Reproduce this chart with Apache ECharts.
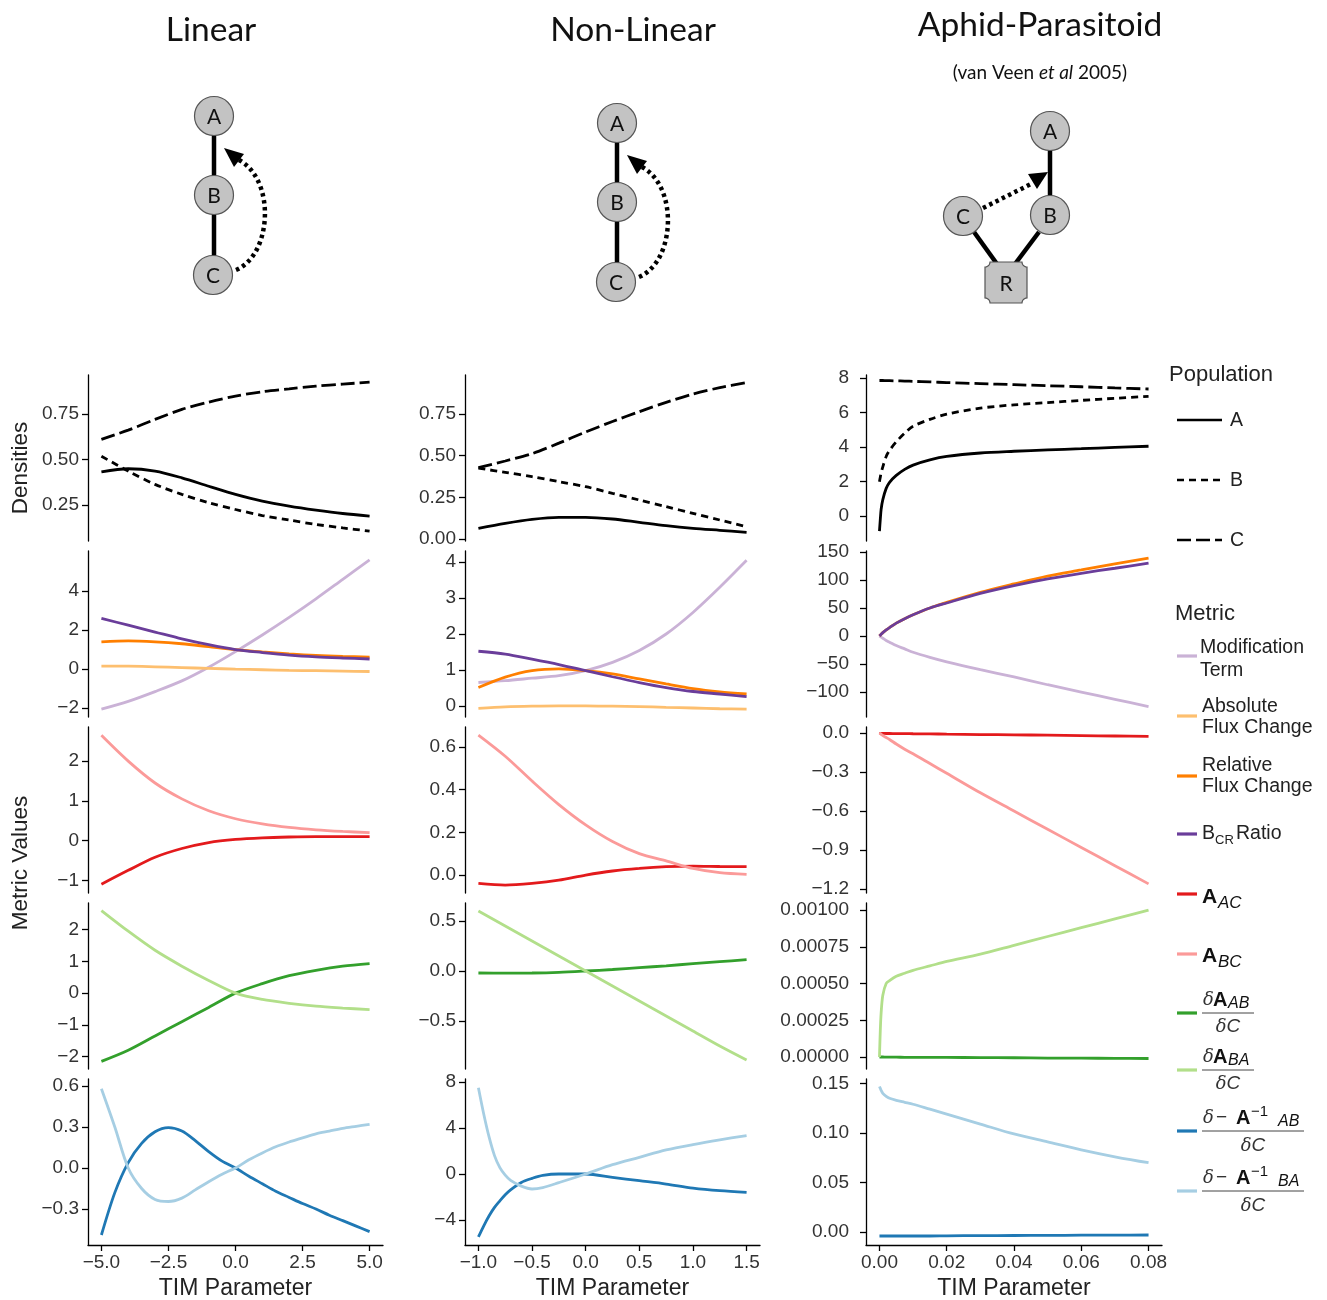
<!DOCTYPE html>
<html><head><meta charset="utf-8">
<script src="https://cdn.jsdelivr.net/npm/echarts@6/dist/echarts.min.js"></script>
<style>html,body{margin:0;padding:0;background:#fff}#c{width:1327px;height:1300px}</style>
</head><body><div id="c"></div>
<script>
// ---------------- DATA ----------------
// Linear model
const linX = [-5,-4,-3,-2,-1,0,1,2,3,4,5];
const linXFine = [-5,-4.5,-4,-3.5,-3,-2.5,-2,-1.5,-1,-0.5,0,0.5,1,1.5,2,2.5,3,3.5,4,4.5,5];
const lin_A = [0.432,0.449,0.436,0.399,0.353,0.308,0.271,0.244,0.222,0.203,0.189];
const lin_B = [0.518,0.436,0.363,0.308,0.262,0.225,0.192,0.167,0.143,0.124,0.106];
const lin_C = [0.610,0.661,0.720,0.775,0.815,0.848,0.872,0.888,0.903,0.914,0.925];
const lin_mod = [-2.05,-1.65,-1.15,-0.6,0.1,0.9,1.75,2.65,3.6,4.6,5.6];
const lin_abs = [0.15,0.15,0.12,0.08,0.04,0.0,-0.03,-0.06,-0.08,-0.10,-0.12];
const lin_rel = [1.40,1.45,1.40,1.30,1.15,1.00,0.88,0.78,0.70,0.65,0.62];
const lin_bcr = [2.60,2.25,1.90,1.55,1.25,1.00,0.85,0.72,0.63,0.57,0.52];
const lin_AAC = [-1.10,-0.75,-0.42,-0.20,-0.05,0.03,0.07,0.09,0.10,0.10,0.10];
const lin_ABC = [2.65,2.00,1.45,1.05,0.75,0.55,0.42,0.33,0.27,0.23,0.20];
const lin_dAAB = [-2.15,-1.80,-1.35,-0.90,-0.45,0.0,0.30,0.55,0.72,0.85,0.93];
const lin_dABA = [2.60,1.95,1.35,0.85,0.40,0.0,-0.20,-0.32,-0.41,-0.47,-0.52];
const lin_dInvAB = [-0.49,-0.18,0.04,0.18,0.265,0.295,0.27,0.20,0.12,0.05,0.0,-0.06,-0.115,-0.17,-0.215,-0.26,-0.30,-0.345,-0.385,-0.425,-0.465];
const lin_dInvBA = [0.58,0.30,0.0,-0.15,-0.23,-0.245,-0.22,-0.16,-0.10,-0.045,0.0,0.06,0.11,0.155,0.19,0.22,0.25,0.27,0.29,0.305,0.32];

// Non-linear model
const nlX = [-1,-0.75,-0.5,-0.25,0,0.25,0.5,0.75,1,1.25,1.5];
const nlXFine = [-1,-0.95,-0.9,-0.85,-0.8,-0.75,-0.7,-0.6,-0.5,-0.4,-0.25,0,0.25,0.5,0.75,1,1.25,1.5];
const nl_A = [0.064,0.094,0.118,0.130,0.130,0.120,0.100,0.080,0.064,0.052,0.040];
const nl_B = [0.425,0.400,0.374,0.344,0.314,0.274,0.234,0.194,0.154,0.114,0.074];
const nl_C = [0.428,0.468,0.512,0.575,0.642,0.705,0.764,0.820,0.870,0.908,0.938];
const nl_mod = [0.65,0.70,0.77,0.84,0.98,1.21,1.54,2.00,2.60,3.30,4.05];
const nl_abs = [-0.07,-0.03,-0.01,0.0,0.0,-0.01,-0.02,-0.04,-0.06,-0.08,-0.09];
const nl_rel = [0.51,0.80,0.98,1.03,0.98,0.89,0.75,0.61,0.48,0.39,0.33];
const nl_bcr = [1.52,1.44,1.30,1.15,0.98,0.81,0.65,0.51,0.40,0.33,0.26];
const nl_AAC = [-0.039,-0.047,-0.039,-0.024,0.0,0.019,0.031,0.039,0.042,0.040,0.039];
const nl_ABC = [0.655,0.556,0.440,0.330,0.235,0.157,0.100,0.066,0.031,0.011,0.003];
const nl_dAAB = [-0.020,-0.022,-0.020,-0.013,0.0,0.015,0.033,0.052,0.073,0.093,0.113];
const nl_dABA = [0.60,0.45,0.30,0.15,0.0,-0.15,-0.30,-0.45,-0.60,-0.75,-0.89];
const nl_dInvAB = [-5.47,-4.5,-3.63,-2.9,-2.33,-1.8,-1.37,-0.73,-0.38,-0.12,0.0,0.0,-0.29,-0.58,-0.87,-1.22,-1.45,-1.6];
const nl_dInvBA = [7.5,5.2,3.2,1.6,0.55,-0.1,-0.55,-1.05,-1.3,-1.18,-0.75,0.0,0.81,1.45,2.09,2.56,2.97,3.34];

// Aphid-Parasitoid model
const apX = [0,0.00025,0.0005,0.001,0.002,0.003,0.005,0.0075,0.01,0.015,0.02,0.03,0.04,0.05,0.06,0.07,0.08];
const ap_A = [-0.88,-0.2,0.39,0.95,1.6,1.95,2.35,2.7,2.95,3.25,3.45,3.65,3.75,3.83,3.9,3.97,4.04];
const ap_B = [1.99,2.25,2.5,2.85,3.45,3.8,4.3,4.8,5.2,5.6,5.9,6.25,6.44,6.57,6.7,6.82,6.93];
const ap_C = [7.85,7.85,7.85,7.85,7.84,7.84,7.83,7.82,7.80,7.77,7.73,7.67,7.61,7.55,7.49,7.42,7.36];
const ap_mod = [0,-1,-2,-4,-8,-11,-17,-23,-29,-38,-46,-60,-73,-87,-100,-113,-126];
const ap_rel = [0,1.5,3,6,11,15,23,31,38,50,60,78,93,107,118,129,139];
const ap_bcr = [0,1.5,3,6,11,15,23,31,38,50,59,76,90,102,112,121,130];
const ap_AAC = [-0.003,-0.003,-0.003,-0.003,-0.004,-0.004,-0.005,-0.005,-0.006,-0.007,-0.009,-0.012,-0.014,-0.017,-0.020,-0.023,-0.026];
const ap_ABC = [0,-0.005,-0.01,-0.02,-0.035,-0.05,-0.085,-0.125,-0.16,-0.235,-0.31,-0.46,-0.60,-0.74,-0.88,-1.02,-1.16];
const ap_dAAB = [0,0,0,0,-0.000001,-0.000001,-0.000001,-0.000002,-0.000002,-0.000003,-0.000003,-0.000004,-0.000005,-0.000007,-0.000008,-0.000009,-0.00001];
const ap_dABA = [0,0.00018,0.0003,0.00042,0.0005,0.00052,0.00055,0.00057,0.00059,0.00062,0.00065,0.0007,0.00076,0.00082,0.00088,0.00094,0.001];
const ap_dInvAB = [-0.004,-0.004,-0.004,-0.004,-0.004,-0.004,-0.004,-0.004,-0.004,-0.004,-0.0038,-0.0036,-0.0035,-0.0034,-0.0032,-0.0031,-0.003];
const ap_dInvBA = [0.147,0.145,0.143,0.140,0.137,0.135,0.133,0.131,0.129,0.124,0.119,0.109,0.099,0.091,0.083,0.076,0.070];

// Tick labels
const linXTicks = [-5,-2.5,0,2.5,5];
const nlXTicks = [-1,-0.5,0,0.5,1,1.5];
const apXTicks = [0,0.02,0.04,0.06,0.08];
const linYTicks = [[0.25,0.5,0.75],[-2,0,2,4],[-1,0,1,2],[-2,-1,0,1,2],[-0.3,0,0.3,0.6]];
const nlYTicks = [[0,0.25,0.5,0.75],[0,1,2,3,4],[0,0.2,0.4,0.6],[-0.5,0,0.5],[-4,0,4,8]];
const apYTicks = [[0,2,4,6,8],[-100,-50,0,50,100,150],[-1.2,-0.9,-0.6,-0.3,0],[0,0.00025,0.0005,0.00075,0.001],[0,0.05,0.1,0.15]];

// ---------------- LAYOUT / STYLE ----------------
const COL = {
  A:'#000000', mod:'#cab2d6', abs:'#fdbf6f', rel:'#ff7f00', bcr:'#6a3d9a',
  AAC:'#e31a1c', ABC:'#fb9a99', dAAB:'#33a02c', dABA:'#b2df8a', dInvAB:'#1f78b4', dInvBA:'#a6cee3'
};
const DASH_B = [7,5], DASH_C = [14,5];
const colLeft = [88, 465, 866], colWidth = [295, 295, 296];
const rowTop = [375, 551, 727, 903, 1079], rowH = 166;
const yLabelMargin = [9, 9, 17];
const xRanges = [[-5.5,5.5],[-1.125,1.625],[-0.004,0.084]];
const yRanges = [
  [[0.052,0.964],[-2.45,6.05],[-1.32,2.86],[-2.39,2.84],[-0.563,0.651]],
  [[-0.012,0.984],[-0.31,4.31],[-0.084,0.693],[-0.98,0.68],[-6.17,8.26]],
  [[-1.45,8.17],[-144.6,151.8],[-1.23,0.046],[-0.0000816,0.001048],[-0.0131,0.1545]]
];
const yDec = [[2,0,0,0,1],[2,0,1,1,0],[0,0,1,5,2]];
const xDec = [1,1,2];
const xTicks = [linXTicks, nlXTicks, apXTicks];
const yTicks = [linYTicks, nlYTicks, apYTicks];

function fmt(v, d){
  if (Math.abs(v) < 1e-12) v = 0;
  let s = Math.abs(v).toFixed(d);
  return (v < 0 ? '\u2212' : '') + s;
}
function zip(xs, ys){ return xs.map((x,i)=>[x, ys[i]]); }

const panels = [
  [
    [[linX,lin_A,COL.A,'solid'],[linX,lin_B,COL.A,DASH_B],[linX,lin_C,COL.A,DASH_C]],
    [[linX,lin_mod,COL.mod],[linX,lin_abs,COL.abs],[linX,lin_rel,COL.rel],[linX,lin_bcr,COL.bcr]],
    [[linX,lin_AAC,COL.AAC],[linX,lin_ABC,COL.ABC]],
    [[linX,lin_dAAB,COL.dAAB],[linX,lin_dABA,COL.dABA]],
    [[linXFine,lin_dInvAB,COL.dInvAB],[linXFine,lin_dInvBA,COL.dInvBA]]
  ],
  [
    [[nlX,nl_A,COL.A,'solid'],[nlX,nl_B,COL.A,DASH_B],[nlX,nl_C,COL.A,DASH_C]],
    [[nlX,nl_mod,COL.mod],[nlX,nl_abs,COL.abs],[nlX,nl_rel,COL.rel],[nlX,nl_bcr,COL.bcr]],
    [[nlX,nl_AAC,COL.AAC],[nlX,nl_ABC,COL.ABC]],
    [[nlX,nl_dAAB,COL.dAAB],[nlX,nl_dABA,COL.dABA]],
    [[nlXFine,nl_dInvAB,COL.dInvAB],[nlXFine,nl_dInvBA,COL.dInvBA]]
  ],
  [
    [[apX,ap_A,COL.A,'solid'],[apX,ap_B,COL.A,DASH_B],[apX,ap_C,COL.A,DASH_C]],
    [[apX,ap_mod,COL.mod],[apX,ap_rel,COL.rel],[apX,ap_bcr,COL.bcr]],
    [[apX,ap_AAC,COL.AAC],[apX,ap_ABC,COL.ABC]],
    [[apX,ap_dAAB,COL.dAAB],[apX,ap_dABA,COL.dABA]],
    [[apX,ap_dInvAB,COL.dInvAB],[apX,ap_dInvBA,COL.dInvBA]]
  ]
];

const LABEL_FONT = 'Liberation Sans, Arial, sans-serif';
const grids = [], xAxes = [], yAxes = [], series = [];
for (let c = 0; c < 3; c++) {
  for (let r = 0; r < 5; r++) {
    const idx = grids.length;
    grids.push({left: colLeft[c], top: rowTop[r], width: colWidth[c], height: rowH, containLabel:false, outerBoundsMode:'none'});
    const bottom = (r === 4);
    xAxes.push({
      type:'value', gridIndex: idx, min: xRanges[c][0], max: xRanges[c][1],
      show: bottom,
      axisLine:{show:true, onZero:false, lineStyle:{color:'#000', width:1.3}},
      axisTick:{show:true, inside:false, length:6, lineStyle:{color:'#000', width:1.3}, customValues: xTicks[c]},
      axisLabel:{show:true, margin:8, color:'#333', fontSize:19, fontFamily: LABEL_FONT,
        customValues: xTicks[c], formatter: v => fmt(v, xDec[c])},
      splitLine:{show:false},
      name: bottom ? 'TIM Parameter' : '', nameLocation:'middle', nameGap: 32,
      nameTextStyle:{color:'#222', fontSize:23, fontFamily: LABEL_FONT}
    });
    yAxes.push({
      type:'value', gridIndex: idx, min: yRanges[c][r][0], max: yRanges[c][r][1],
      axisLine:{show:true, onZero:false, lineStyle:{color:'#000', width:1.3}},
      axisTick:{show:true, inside:false, length:6, lineStyle:{color:'#000', width:1.3}, customValues: yTicks[c][r]},
      axisLabel:{show:true, margin: yLabelMargin[c], color:'#333', fontSize:19, fontFamily: LABEL_FONT,
        customValues: yTicks[c][r], formatter: v => fmt(v, yDec[c][r])},
      splitLine:{show:false}
    });
    panels[c][r].forEach(s => {
      series.push({
        type:'line', xAxisIndex: idx, yAxisIndex: idx,
        data: zip(s[0], s[1]), showSymbol:false, symbol:'none',
        smooth: 0.3, silent:true,
        lineStyle:{color: s[2], width: 2.8, type: s[3] || 'solid', cap:'butt'}
      });
    });
  }
}

// ---------------- GRAPHIC (diagrams, labels, legend) ----------------
const G = [];
const TITLE_FONT = 'Lato, "Open Sans", sans-serif';
function text(x, y, s, o){
  o = o || {};
  G.push({type:'text', x, y, rotation: o.rot || 0, silent:true, style:{
    text: s, fill: o.fill || '#111', fontSize: o.size || 18, fontFamily: o.family || LABEL_FONT,
    fontWeight: o.weight || 'normal', fontStyle: o.style || 'normal',
    align: o.align || 'left', verticalAlign: o.va || 'middle'
  }});
}
function line(x1,y1,x2,y2,color,w,dash){
  G.push({type:'line', silent:true, shape:{x1,y1,x2,y2}, style:{stroke:color, lineWidth:w, lineDash: dash || null, lineCap:'butt'}});
}
function node(cx, cy, label){
  G.push({type:'circle', silent:true, shape:{cx, cy, r:19.5}, style:{fill:'#c3c3c3', stroke:'#555', lineWidth:1.2}});
  text(cx, cy+1, label, {size:21, family: TITLE_FONT, align:'center', fill:'#111'});
}
function tri(p){
  G.push({type:'polygon', silent:true, shape:{points:p}, style:{fill:'#000'}});
}

// Titles
text(211, 30, 'Linear', {size:33.5, family: TITLE_FONT, align:'center'});
text(633, 30, 'Non-Linear', {size:33.5, family: TITLE_FONT, align:'center'});
text(1040, 25, 'Aphid-Parasitoid', {size:33.5, family: TITLE_FONT, align:'center'});
G.push({type:'text', x:1040, y:73, silent:true, style:{
  text:'{n|(van Veen }{i|et al}{n| 2005)}', align:'center', verticalAlign:'middle',
  rich:{n:{fontSize:19, fontFamily:TITLE_FONT, fill:'#111'}, i:{fontSize:19, fontFamily:TITLE_FONT, fontStyle:'italic', fill:'#111'}}
}});

// Linear & non-linear chain diagrams
function chain(dx, dy){
  line(214+dx, 134+dy, 214+dx, 177+dy, '#000', 4.5);
  line(214+dx, 214+dy, 214+dx, 257+dy, '#000', 4.5);
  G.push({type:'bezierCurve', silent:true, shape:{x1:236+dx, y1:270+dy, cpx1:272+dx, cpy1:255+dy, cpx2:276+dx, cpy2:180+dy, x2:239+dx, y2:160+dy},
    style:{stroke:'#000', lineWidth:4.5, lineDash:[3.5,3.5], fill:null}});
  tri([[224+dx,148+dy],[244+dx,154+dy],[234+dx,167+dy]]);
  node(214+dx, 116+dy, 'A');
  node(214+dx, 195+dy, 'B');
  node(213+dx, 275+dy, 'C');
}
chain(0, 0);
chain(403, 7);

// Aphid-parasitoid diagram
line(1050, 150, 1050, 197, '#000', 4.5);
line(974, 232, 997, 264, '#000', 4.5);
line(1039, 232, 1015, 264, '#000', 4.5);
line(983, 208, 1033, 183, '#000', 4.5, [3.5,3.5]);
tri([[1048,172],[1037,189],[1028,174]]);
// R: square with concave (notched) corners
(function(){
  const x0 = 985, x1 = 1027, y0 = 262, y1 = 303, r = 5, pts = [];
  const corners = [[x0,y0,0],[x1,y0,Math.PI/2],[x1,y1,Math.PI],[x0,y1,1.5*Math.PI]];
  corners.forEach(([cx,cy,a0]) => {
    for (let k = 0; k <= 6; k++) {
      const a = a0 + Math.PI/2 - (Math.PI/2) * k / 6;
      pts.push([cx + r*Math.cos(a), cy + r*Math.sin(a)]);
    }
  });
  G.push({type:'polygon', silent:true, shape:{points:pts}, style:{fill:'#c3c3c3', stroke:'#555', lineWidth:1.2}});
})();
text(1006, 284, 'R', {size:21, family: TITLE_FONT, align:'center'});
node(1050, 131, 'A');
node(1050, 215, 'B');
node(963, 216, 'C');

// Y axis titles
text(21, 468, 'Densities', {size:22.5, align:'center', rot: Math.PI/2, fill:'#222'});
text(21, 863, 'Metric Values', {size:22.5, align:'center', rot: Math.PI/2, fill:'#222'});

// Legend: Population
text(1169, 375, 'Population', {size:22, fill:'#222'});
line(1177, 420, 1222, 420, '#000', 2.4);
text(1230, 421, 'A', {size:19.5, fill:'#222'});
line(1177, 480, 1222, 480, '#000', 2.4, DASH_B);
text(1230, 481, 'B', {size:19.5, fill:'#222'});
line(1177, 540, 1222, 540, '#000', 2.4, DASH_C);
text(1230, 541, 'C', {size:19.5, fill:'#222'});

// Legend: Metric
text(1175, 614, 'Metric', {size:22, fill:'#222'});
function key(y, color){ line(1177, y, 1197, y, color, 3.2); }
const LS = 19.5;
key(656, COL.mod);  text(1200, 648, 'Modification', {size:LS, fill:'#222'}); text(1200, 671, 'Term', {size:LS, fill:'#222'});
key(716, COL.abs);  text(1202, 707, 'Absolute', {size:LS, fill:'#222'});     text(1202, 728, 'Flux Change', {size:LS, fill:'#222'});
key(776, COL.rel);  text(1202, 766, 'Relative', {size:LS, fill:'#222'});     text(1202, 787, 'Flux Change', {size:LS, fill:'#222'});
key(834, COL.bcr);  text(1202, 834, 'B', {size:LS, fill:'#222'}); text(1215, 840, 'CR', {size:13, fill:'#222'}); text(1236, 834, 'Ratio', {size:LS, fill:'#222'});

const MATH_SERIF = 'DejaVu Serif, serif';
key(894, COL.AAC); text(1202, 897, 'A', {size:21, weight:'bold', fill:'#111'}); text(1218, 903, 'AC', {size:17, style:'italic', fill:'#111'});
key(954, COL.ABC); text(1202, 956, 'A', {size:21, weight:'bold', fill:'#111'}); text(1218, 962, 'BC', {size:17, style:'italic', fill:'#111'});

function setRich(){
  const st = G[G.length-1].style;
  st.rich = {d:{fontSize:18, fontFamily:MATH_SERIF, fontStyle:'italic', fill:'#333'}, c:{fontSize:19, fontFamily:LABEL_FONT, fontStyle:'italic', fill:'#333'}};
  st.align = 'center';
}
function frac1(y, sub, color){
  key(y, color);
  text(1203, y-13, 'δ', {size:18, family: MATH_SERIF, style:'italic', fill:'#333'});
  text(1213, y-13, 'A', {size:20, weight:'bold', fill:'#111'});
  text(1228, y-9, sub, {size:16, style:'italic', fill:'#111'});
  line(1202, y, 1254, y, '#444', 1);
  text(1228, y+14, '{d|δ}{c|C}', {});
  setRich();
}
frac1(1013, 'AB', COL.dAAB);
frac1(1070, 'BA', COL.dABA);

function frac2(y, sub, color){
  key(y, color);
  text(1203, y-13, 'δ', {size:18, family: MATH_SERIF, style:'italic', fill:'#333'});
  text(1216, y-13, '\u2212', {size:19, fill:'#333'});
  text(1236, y-13, 'A', {size:20, weight:'bold', fill:'#111'});
  text(1251, y-19, '\u22121', {size:15, fill:'#111'});
  text(1278, y-9, sub, {size:16, style:'italic', fill:'#111'});
  line(1202, y, 1304, y, '#444', 1);
  text(1253, y+15, '{d|δ}{c|C}', {});
  setRich();
}
frac2(1131, 'AB', COL.dInvAB);
frac2(1191, 'BA', COL.dInvBA);

const chart = echarts.init(document.getElementById('c'), null, {renderer:'canvas'});
chart.setOption({
  backgroundColor:'#ffffff',
  animation:false,
  grid: grids, xAxis: xAxes, yAxis: yAxes, series: series,
  graphic: G
});
</script>
</body></html>
